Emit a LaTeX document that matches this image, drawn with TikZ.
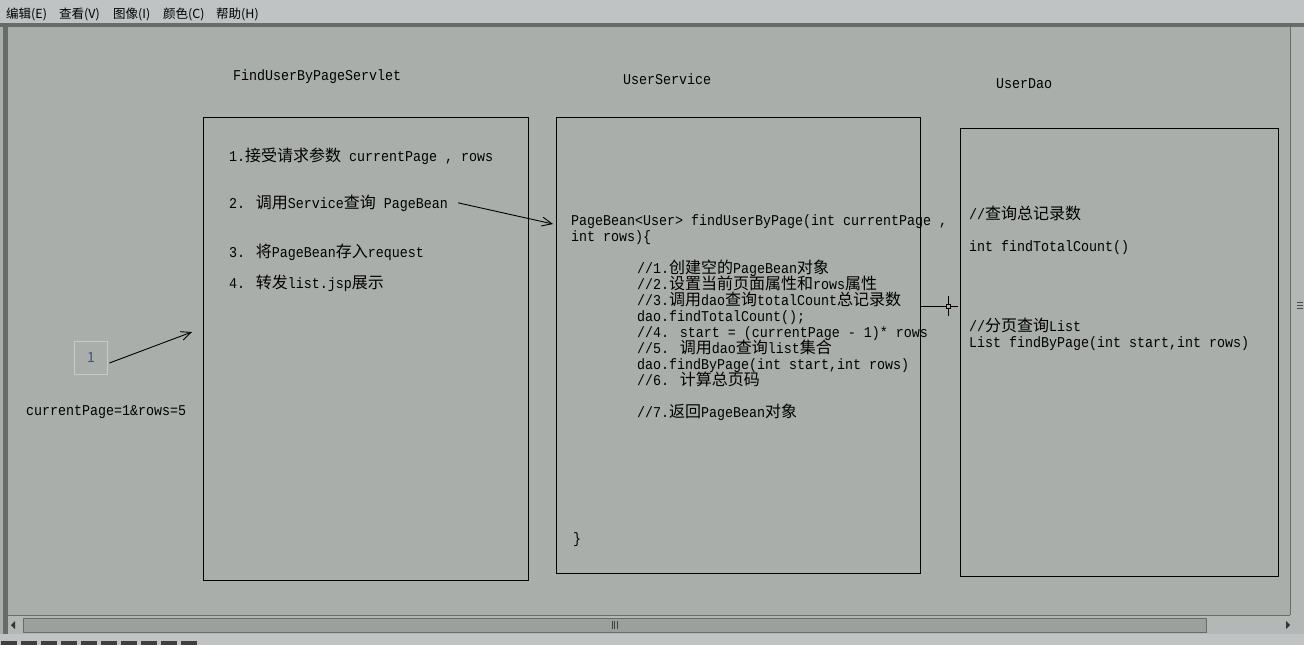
\documentclass[tikz,border=0pt]{standalone}
\usepackage{fontspec}
\usetikzlibrary{arrows.meta,calc}
\newfontfamily\zhfont{Noto Sans CJK SC}
\newfontfamily\monofont[FakeStretch=0.8889]{Liberation Mono}
\newcommand\zh[1]{{\zhfont\fontsize{16}{16}\selectfont #1}}
\definecolor{canvasbg}{HTML}{AAAEAA}
\definecolor{menubg}{HTML}{BFC3C3}
\definecolor{chrome}{HTML}{686C68}
\definecolor{trackbg}{HTML}{B3B7B5}
\definecolor{thumbfill}{HTML}{9CA09D}
\definecolor{boxgray}{HTML}{C6CAC8}
\definecolor{numblue}{HTML}{3E5275}
\tikzset{
  txt/.style={anchor=base west, inner sep=0pt, font=\monofont\fontsize{15}{16}\selectfont},
  menu/.style={anchor=base west, inner sep=0pt, font=\zhfont\fontsize{12.5}{12}\selectfont},
  frame/.style={draw=black, line width=1pt, inner sep=0pt},
  arr/.style={line width=0.9pt, -{Straight Barb[length=10pt,width=9pt]}}
}
\begin{document}
\begin{tikzpicture}[x=1pt,y=-1pt]
\useasboundingbox (0,0) rectangle (1304,645);
% window chrome
\fill[canvasbg] (0,0) rectangle (1304,645);
\fill[menubg] (0,0) rectangle (1304,23);
\fill[chrome] (0,23) rectangle (1304,27);
\fill[chrome] (3,23) rectangle (8,636);
\fill[trackbg] (1290,27) rectangle (1304,615);
\draw[chrome, line width=1pt] (1290.5,27) -- (1290.5,615);
\draw[black!70, line width=0.6pt] (1297,302) -- (1303,302) (1297,305) -- (1303,305) (1297,308) -- (1303,308);
\fill[trackbg] (8,615) rectangle (1304,634);
\draw[chrome, line width=1pt] (8,615.5) -- (1290,615.5);
\draw[fill=thumbfill, draw=chrome, line width=0.8pt] (23,618) rectangle (1206,632);
\draw[black!75, line width=0.7pt] (612,621) -- (612,629) (614.5,621) -- (614.5,629) (617,621) -- (617,629);
\fill[black!80] (11,625) -- (15,621) -- (15,629) -- cycle;
\fill[black!80] (1290,625) -- (1286,621) -- (1286,629) -- cycle;
\fill[menubg] (0,634) rectangle (1304,645);
\foreach \k in {0,...,9} {\fill[black!75] (\k*20+1,641) rectangle (\k*20+17,645);}
% menu
\node[menu] (m1) at (6,18) {编辑(E)};
\node[menu] (m2) at (59,18) {查看(V)};
\node[menu] (m3) at (113,18) {图像(I)};
\node[menu] (m4) at (163,18) {颜色(C)};
\node[menu] (m5) at (216,18) {帮助(H)};
% titles
\node[txt] (ttl1) at (233,80) {FindUserByPageServlet};
\node[txt] (ttl2) at (623,84) {UserService};
\node[txt] (ttl3) at (996,88) {UserDao};
% frames
\node[frame, minimum width=325pt, minimum height=463pt] (servlet) at (365.5,348.5) {};
\node[frame, minimum width=364pt, minimum height=456pt] (svc) at (738,345) {};
\node[frame, minimum width=318pt, minimum height=448pt] (dao) at (1119,352) {};
% servlet text
\node[txt] (s1) at (229,161) {1.\zh{接受请求参数} currentPage , rows};
\node[txt] (s2) at (229,208) {2. \zh{调用}Service\zh{查询} PageBean};
\node[txt] (s3) at (229,257) {3. \zh{将}PageBean\zh{存入}request};
\node[txt] (s4) at (229,288) {4. \zh{转发}list.jsp\zh{展示}};
% service text
\node[txt] (c0) at (571,225) {PageBean<User> findUserByPage(int currentPage ,};
\node[txt] (c0b) at (571,241) {int rows)\{};
\node[txt] (c1) at (637,273) {//1.\zh{创建空的}PageBean\zh{对象}};
\node[txt] (c2) at (637,289) {//2.\zh{设置当前页面属性和}rows\zh{属性}};
\node[txt] (c3) at (637,305) {//3.\zh{调用}dao\zh{查询}totalCount\zh{总记录数}};
\node[txt] (c4) at (637,321) {dao.findTotalCount();};
\node[txt] (c5) at (637,337) {//4. start = (currentPage - 1)* rows};
\node[txt] (c6) at (637,353) {//5. \zh{调用}dao\zh{查询}list\zh{集合}};
\node[txt] (c7) at (637,369) {dao.findByPage(int start,int rows)};
\node[txt] (c8) at (637,385) {//6. \zh{计算总页码}};
\node[txt] (c9) at (637,417) {//7.\zh{返回}PageBean\zh{对象}};
\node[txt] (cend) at (573,543) {\}};
% dao text
\node[txt] (d1) at (969,219) {//\zh{查询总记录数}};
\node[txt] (d2) at (969,251) {int findTotalCount()};
\node[txt] (d3) at (969,331) {//\zh{分页查询}List};
\node[txt] (d4) at (969,347) {List findByPage(int start,int rows)};
% request
\node[draw=boxgray, line width=0.8pt, minimum width=33pt, minimum height=33pt, inner sep=0pt,
      font=\zhfont\fontsize{14}{14}\selectfont, text=numblue] (one) at (91,357.5) {1};
\node[txt] (req) at (26,415) {currentPage=1\&rows=5};
% connectors
\coordinate (a1) at (192,332);
\coordinate (a2) at (553,224);
\coordinate (cur) at (948,306);
\draw[arr] ([shift={(1.5,5.5)}]one.east) -- (a1);
\draw[arr] ([xshift=10pt]s2.east) -- (a2);
\draw[line width=0.9pt] ([shift={(0,-39)}]svc.east) -- (cur);
% crosshair cursor
\draw[black, line width=0.9pt] ([xshift=-10pt]cur) -- ([xshift=10pt]cur) ([yshift=10pt]cur) -- ([yshift=-10pt]cur);
\draw[black, line width=0.7pt, fill=canvasbg] ([shift={(-2,-2)}]cur) rectangle ([shift={(2,2)}]cur);
\end{tikzpicture}
\end{document}
